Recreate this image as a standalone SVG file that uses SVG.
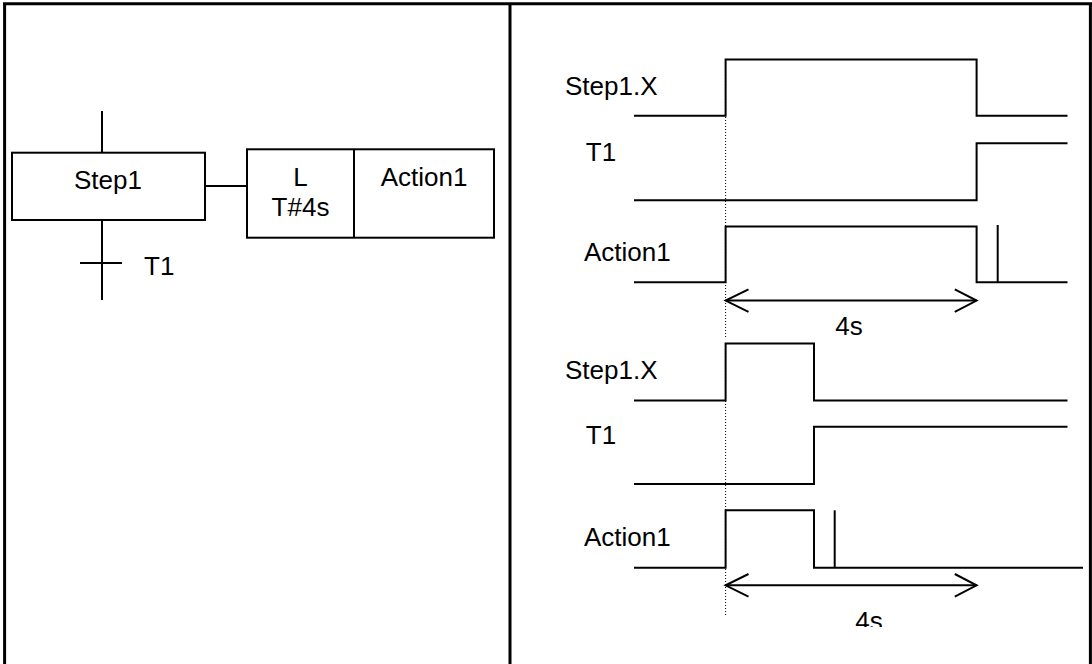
<svg xmlns="http://www.w3.org/2000/svg" width="1092" height="664" viewBox="0 0 1092 664">
<defs>
<style>
text{font-family:"Liberation Sans",Arial,sans-serif;font-size:26px;fill:#000}
.c{text-anchor:middle}
.frame{stroke:#000;stroke-width:3;fill:none}
.ln{stroke:#000;stroke-width:2;fill:none}
.dot{stroke:#000;stroke-width:1;stroke-dasharray:1 2;fill:none}
</style>
<clipPath id="clipBottom"><rect x="0" y="0" width="1092" height="627"/></clipPath>
</defs>
<rect width="1092" height="664" fill="#fff"/>
<g id="frame">
<line class="frame" x1="3" y1="3.7" x2="1092" y2="3.7"/>
<line class="frame" x1="4.6" y1="3" x2="4.6" y2="664"/>
<line class="frame" x1="510" y1="3" x2="510" y2="664"/>
<line class="frame" x1="1090.4" y1="3" x2="1090.4" y2="664"/>
</g>
<g id="connectors">
<line class="ln" x1="102" y1="111" x2="102" y2="153"/>
<line class="ln" x1="102" y1="220" x2="102" y2="300"/>
<line class="ln" x1="205" y1="186" x2="247" y2="186"/>
</g>
<g id="step1">
<rect class="ln" x="12" y="152.7" width="193" height="67.3"/>
<text class="c" x="108" y="189">Step1</text>
</g>
<g id="transition-t1">
<line class="ln" x1="80" y1="263" x2="122" y2="263"/>
<text x="144" y="275">T1</text>
</g>
<g id="action1-block">
<rect class="ln" x="247" y="149.3" width="247" height="88.4"/>
<line class="ln" x1="354" y1="149.3" x2="354" y2="237.7"/>
<text class="c" x="300.5" y="186">L</text>
<text class="c" x="300.5" y="216">T#4s</text>
<text class="c" x="424" y="186">Action1</text>
</g>
<g id="timing-1">
<text x="565" y="95">Step1.X</text>
<polyline class="ln" points="634,115.7 725.6,115.7 725.6,59.4 976.6,59.4 976.6,115.7 1067.5,115.7"/>
<text x="585.8" y="161">T1</text>
<polyline class="ln" points="634,200.2 976.6,200.2 976.6,143.2 1067.5,143.2"/>
<text x="584" y="261">Action1</text>
<polyline class="ln" points="634,282.3 725.6,282.3 725.6,226.6 976.6,226.6 976.6,282.3 1067.5,282.3"/>
<line class="ln" x1="997.7" y1="225" x2="997.7" y2="282.3"/>
<line class="dot" x1="725.6" y1="60" x2="725.6" y2="339"/>
<line class="ln" x1="725.6" y1="300.6" x2="976.6" y2="300.6"/>
<polyline class="ln" points="748.5,289.3 725.6,300.6 748.5,311.8"/>
<polyline class="ln" points="954.8,289.3 976.6,300.6 954.8,311.8"/>
<text class="c" x="849" y="335">4s</text>
</g>
<g id="timing-2">
<text x="565" y="379.3">Step1.X</text>
<polyline class="ln" points="634,400.4 725.6,400.4 725.6,343.4 814,343.4 814,400.4 1067.5,400.4"/>
<text x="585.8" y="443.7">T1</text>
<polyline class="ln" points="634,483.9 814,483.9 814,426.8 1067.5,426.8"/>
<text x="584" y="545.5">Action1</text>
<polyline class="ln" points="634,567.7 725.6,567.7 725.6,510.3 814,510.3 814,567.7 1083,567.7"/>
<line class="ln" x1="834.7" y1="510.3" x2="834.7" y2="567.7"/>
<line class="dot" x1="725.6" y1="344" x2="725.6" y2="616"/>
<line class="ln" x1="725.6" y1="585.3" x2="976.6" y2="585.3"/>
<polyline class="ln" points="748.5,574 725.6,585.3 748.5,596.6"/>
<polyline class="ln" points="954.8,574 976.6,585.3 954.8,596.6"/>
<text class="c" x="869" y="630" clip-path="url(#clipBottom)">4s</text>
</g>
</svg>
